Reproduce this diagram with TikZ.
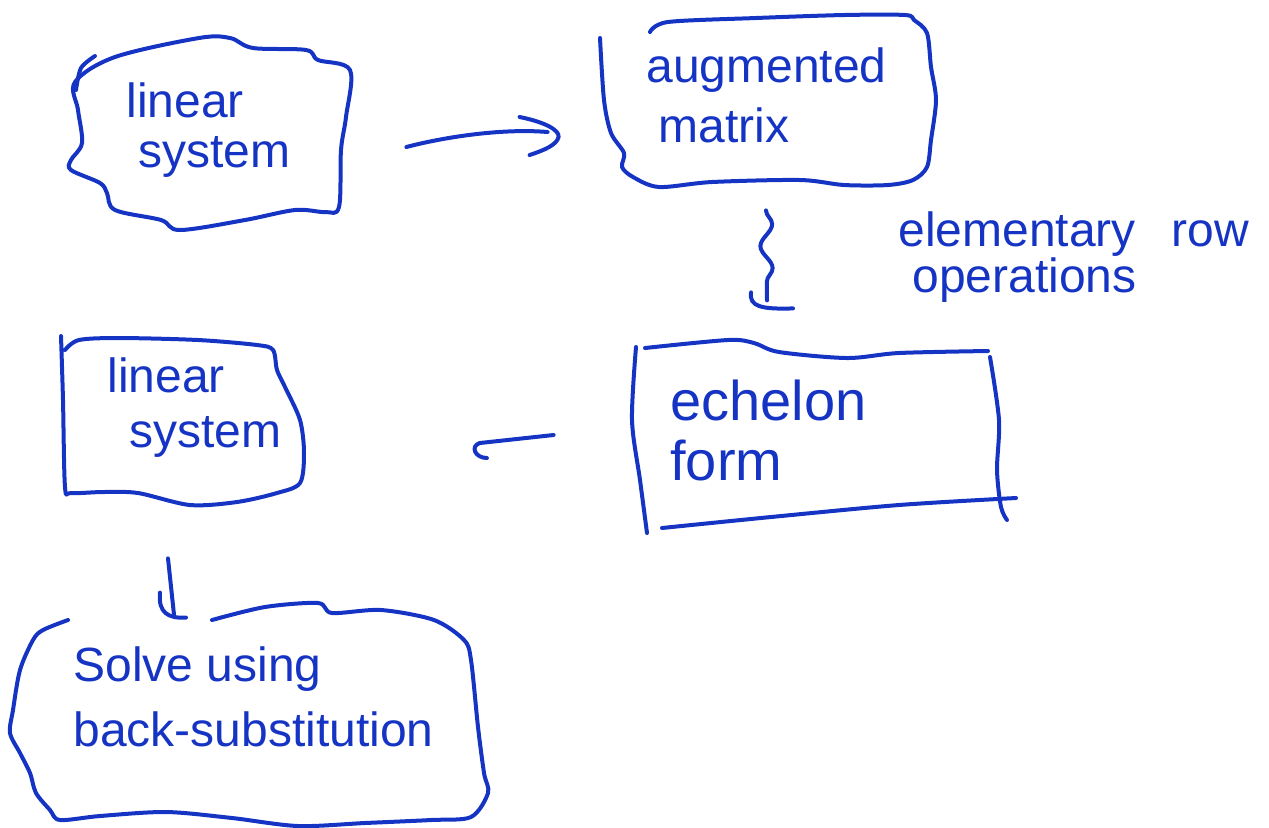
\documentclass[tikz,border=0pt]{standalone}
\usepackage{fontspec}
\setmainfont{Liberation Sans}
\usetikzlibrary{calc,decorations.pathmorphing}
\definecolor{ink}{RGB}{22,52,196}
\begin{document}
\begin{tikzpicture}[x=0.5pt,y=-0.5pt,
  pen/.style={draw=ink, line width=2pt, line cap=round, line join=round},
  boxnode/.style={draw=none, rectangle, inner sep=0pt},
  lbl/.style={text=ink, anchor=west, align=left, inner sep=0pt},
]
\useasboundingbox (0,0) rectangle (1269,827);

% invisible box nodes (extent of each hand-drawn box)
\node[boxnode, minimum width=140pt, minimum height=90pt] (b1) at (210,134) {};
\node[boxnode, minimum width=168pt, minimum height=86pt] (b2) at (768,101) {};
\node[boxnode, minimum width=189pt, minimum height=92.5pt] (b3) at (821,437) {};
\node[boxnode, minimum width=121.5pt, minimum height=84pt] (b4) at (182,421) {};
\node[boxnode, minimum width=239pt, minimum height=112pt] (b5) at (249,715) {};

% outlines
\draw[pen] plot[smooth cycle, tension=0.55] coordinates {(75,82) (115,57) (199,38) (230,38) (253,48) (306,50) (318,60) (350,70) (346,117) (341,150) (339,207) (325,212) (295,210) (245,220) (180,230) (161,220) (115,210) (107,193) (100,183) (71,170) (71,160) (82,143) (78,110)};
\draw[pen] plot[smooth] coordinates {(76,90) (81,68) (95,56)};

\draw[pen] plot[smooth] coordinates {(650,32) (668,22) (756,18) (844,15) (905,15) (914,20) (927,33) (931,67) (936,100) (931,140) (927,167) (913,180) (888,185) (844,185) (800,180) (712,182) (659,187) (633,177) (622,167) (624,153) (611,133) (604,100) (600,38)};

\draw[pen] plot[smooth] coordinates {(636,347) (632,420) (640,480) (647,533)};
\draw[pen] plot[smooth] coordinates {(645,348) (728,340) (754,343) (779,352) (847,358) (899,353) (988,351)};
\draw[pen] plot[smooth] coordinates {(990,357) (999,420) (997,470) (1001,507) (1007,520)};
\draw[pen] plot[smooth] coordinates {(662,528) (771,517) (899,505) (1016,498)};

\draw[pen] plot[smooth] coordinates {(61,336) (63,400) (65,487) (71,493) (103,492) (138,493) (190,505) (237,502) (277,493) (300,483) (304,453) (300,420) (285,387) (277,370) (273,350) (257,345) (198,340) (119,338) (79,340) (65,350)};

\draw[pen] plot[smooth] coordinates {(212,620) (265,607) (318,603) (332,613) (381,610) (434,620) (464,640) (471,660) (478,727) (484,773) (488,793) (471,817) (431,820) (365,823) (298,826) (232,818) (166,812) (100,816) (60,820) (50,810) (36,793) (30,773) (20,753) (10,733) (13,710) (20,670) (33,640) (43,630) (68,620)};

% labels
\node[lbl, font=\fontsize{24}{25}\selectfont] (t1) at (126,130) {linear\\\hspace*{6pt}system};
\node[lbl, font=\fontsize{24}{30}\selectfont] (t2) at (646,95) {augmented\\\hspace*{6pt}matrix};
\node[lbl, font=\fontsize{28}{30}\selectfont] (t3) at (670,430) {echelon\\form};
\node[lbl, font=\fontsize{24}{27.5}\selectfont] (t4) at (107,408) {linear\\\hspace*{11pt}system};
\node[lbl, font=\fontsize{24}{32.5}\selectfont] (t5) at (73,697) {Solve using\\back-substitution};
\node[lbl, font=\fontsize{24}{22}\selectfont] (ero) at (898,257) {elementary\hspace{18pt}row\\\hspace*{7pt}operations};

% connector 1: linear system -> augmented matrix
\draw[pen] ($(b1.east)+(56,13)$) .. controls ($(b1.east)+(90,4)$) and ($(b2.west)+(-100,27)$) .. ($(b2.west)+(-52,31)$) coordinate (a1);
\coordinate (a1t) at ($(a1)+(11,5)$);
\draw[pen] ($(a1t)+(-39,-20)$) .. controls ($(a1t)+(-14,-15)$) and ($(a1t)+(1,-7)$) .. (a1t)
  .. controls ($(a1t)+(-2,8)$) and ($(a1t)+(-14,13)$) .. ($(a1t)+(-29,18)$);

% connector 2: augmented matrix -> echelon form (wavy)
\draw[pen, decorate, decoration={snake, amplitude=3pt, segment length=22pt}] ($(b2.south)+(-2,23)$) -- ($(b2.south)+(-1,113)$) coordinate (w2);
\draw[pen] ($(w2)+(-16,-8)$) .. controls ($(w2)+(-18,6)$) and ($(w2)+(-6,9)$) .. ($(w2)+(26,8)$);

% connector 3: echelon form -> linear system
\draw[pen] ($(b3.west)+(-78,-2)$) -- ($(b4.east)+(176,22)$) coordinate (l3);
\draw[pen] (l3) .. controls ($(l3)+(-10,3)$) and ($(l3)+(-5,15)$) .. ($(l3)+(7,15)$);

% connector 4: linear system -> solve
\draw[pen] ($(b4.south)+(-14,53)$) -- ($(b5.north)+(-75,12)$) coordinate (d4);
\draw[pen] ($(d4)+(-14,-22)$) .. controls ($(d4)+(-16,-2)$) and ($(d4)+(-6,4)$) .. ($(d4)+(12,3)$);
\end{tikzpicture}
\end{document}
